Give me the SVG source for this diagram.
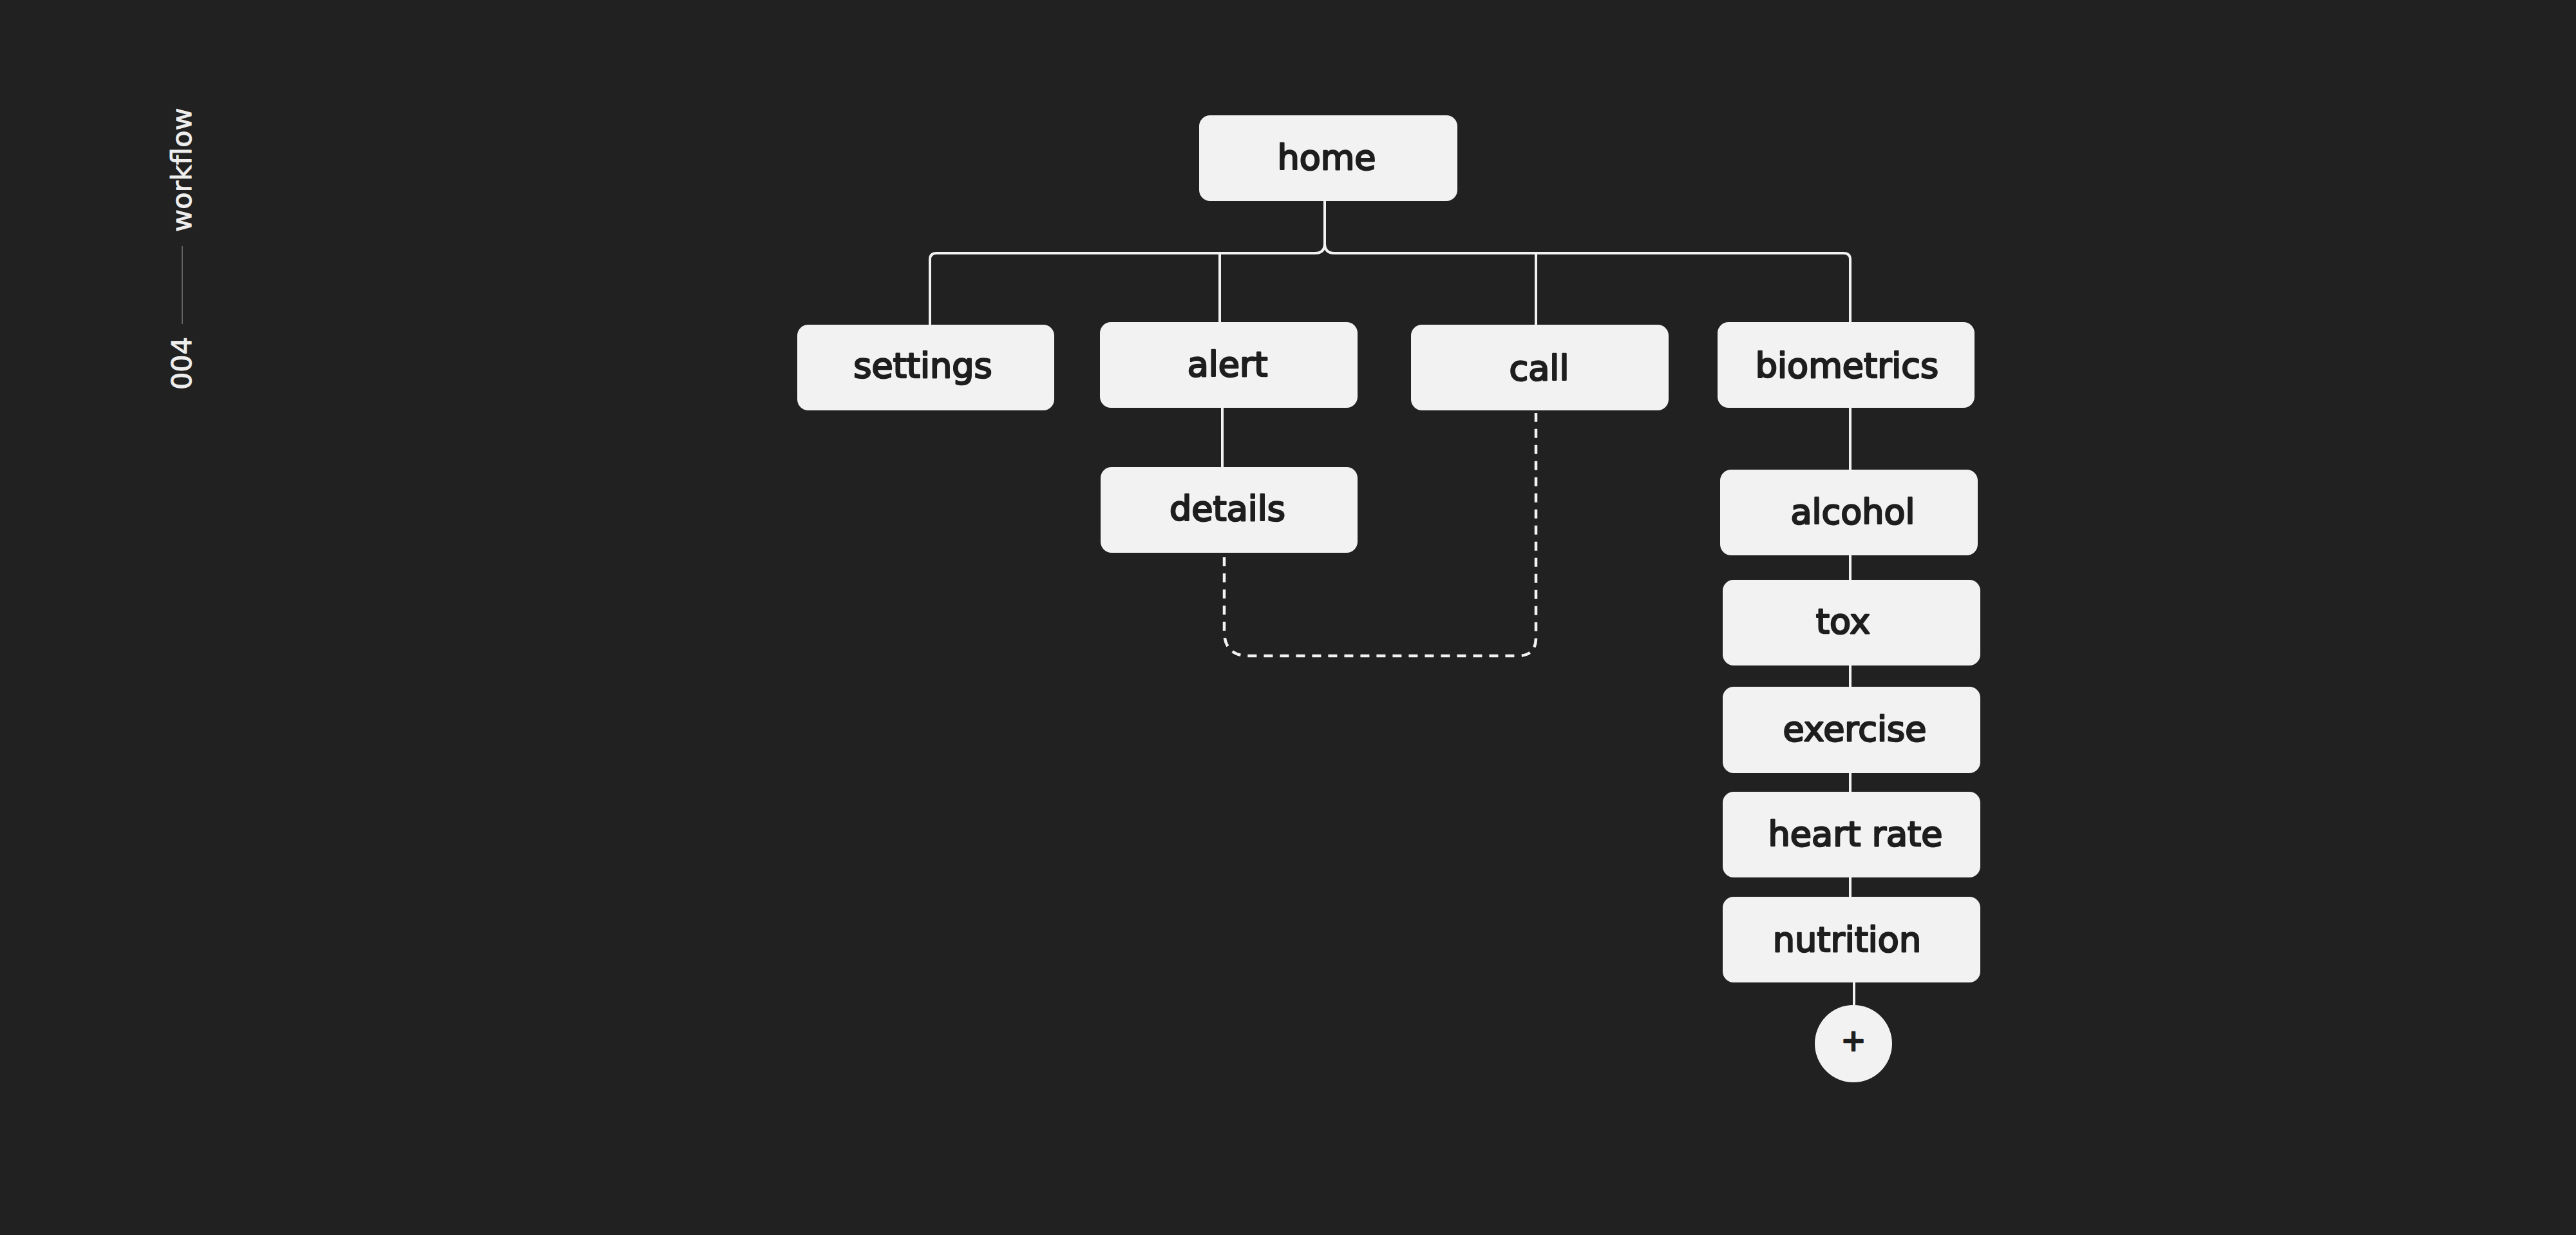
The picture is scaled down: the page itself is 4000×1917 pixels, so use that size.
<svg xmlns="http://www.w3.org/2000/svg" width="4000" height="1917" viewBox="0 0 4000 1917">
<style>
.bg{fill:#212121}
.box{fill:#f2f2f2}
.lbl{font-family:"DejaVu Sans",sans-serif;font-size:54px;fill:#1e1e1e;stroke:#1e1e1e;stroke-width:2.6;stroke-linejoin:round;text-anchor:middle}
.side{font-family:"DejaVu Sans",sans-serif;font-size:43px;fill:#eeeeee;stroke:#eeeeee;stroke-width:1;stroke-linejoin:round}
.link{fill:none;stroke:#f2f2f2;stroke-width:4}
.dash{fill:none;stroke:#f2f2f2;stroke-width:4.5;stroke-dasharray:14 11}
</style>
<rect class="bg" x="0" y="0" width="4000" height="1917"/>
<g id="side-label">
<text class="side" transform="translate(297,360) rotate(-90)">workflow</text>
<line x1="283" y1="382" x2="283" y2="503" stroke="#7a7a7a" stroke-width="1.5"/>
<text class="side" transform="translate(297,605) rotate(-90)">004</text>
</g>
<g id="connectors">
<path class="link" d="M2057 312 V378 Q2057 393 2042 393 H1454 Q1444 393 1444 403 V504"/>
<path class="link" d="M2057 378 Q2057 393 2072 393 H2863 Q2873 393 2873 403 V500"/>
<path class="link" d="M1894 393 V500"/>
<path class="link" d="M2385 393 V504"/>
<path class="link" d="M1898 633 V725"/>
<path class="link" d="M2873 633 V1392"/>
<path class="link" d="M2879 1525 V1560"/>
<path class="dash" d="M1901 865 V980 Q1901 1018 1939 1018 H2357 Q2385 1018 2385 990 V641"/>
</g>
<g id="home"><rect class="box" x="1862" y="179" width="401" height="133" rx="17"/><text class="lbl" x="2060" y="263">home</text></g>
<g id="settings"><rect class="box" x="1238" y="504" width="399" height="133" rx="17"/><text class="lbl" x="1433" y="586">settings</text></g>
<g id="alert"><rect class="box" x="1708" y="500" width="400" height="133" rx="17"/><text class="lbl" x="1906" y="584">alert</text></g>
<g id="call"><rect class="box" x="2191" y="504" width="400" height="133" rx="17"/><text class="lbl" x="2390" y="590">call</text></g>
<g id="biometrics"><rect class="box" x="2667" y="500" width="399" height="133" rx="17"/><text class="lbl" x="2868" y="586">biometrics</text></g>
<g id="details"><rect class="box" x="1709" y="725" width="399" height="133" rx="17"/><text class="lbl" x="1906" y="808">details</text></g>
<g id="alcohol"><rect class="box" x="2671" y="729" width="400" height="133" rx="17"/><text class="lbl" x="2877" y="813">alcohol</text></g>
<g id="tox"><rect class="box" x="2675" y="900" width="400" height="133" rx="17"/><text class="lbl" x="2862" y="983">tox</text></g>
<g id="exercise"><rect class="box" x="2675" y="1066" width="400" height="134" rx="17"/><text class="lbl" x="2880" y="1150">exercise</text></g>
<g id="heart-rate"><rect class="box" x="2675" y="1229" width="400" height="133" rx="17"/><text class="lbl" x="2881" y="1313">heart rate</text></g>
<g id="nutrition"><rect class="box" x="2675" y="1392" width="400" height="133" rx="17"/><text class="lbl" x="2868" y="1477">nutrition</text></g>
<g id="add"><circle class="box" cx="2878" cy="1620" r="60"/><text class="lbl" x="2878" y="1631" style="font-size:46px">+</text></g>
</svg>
